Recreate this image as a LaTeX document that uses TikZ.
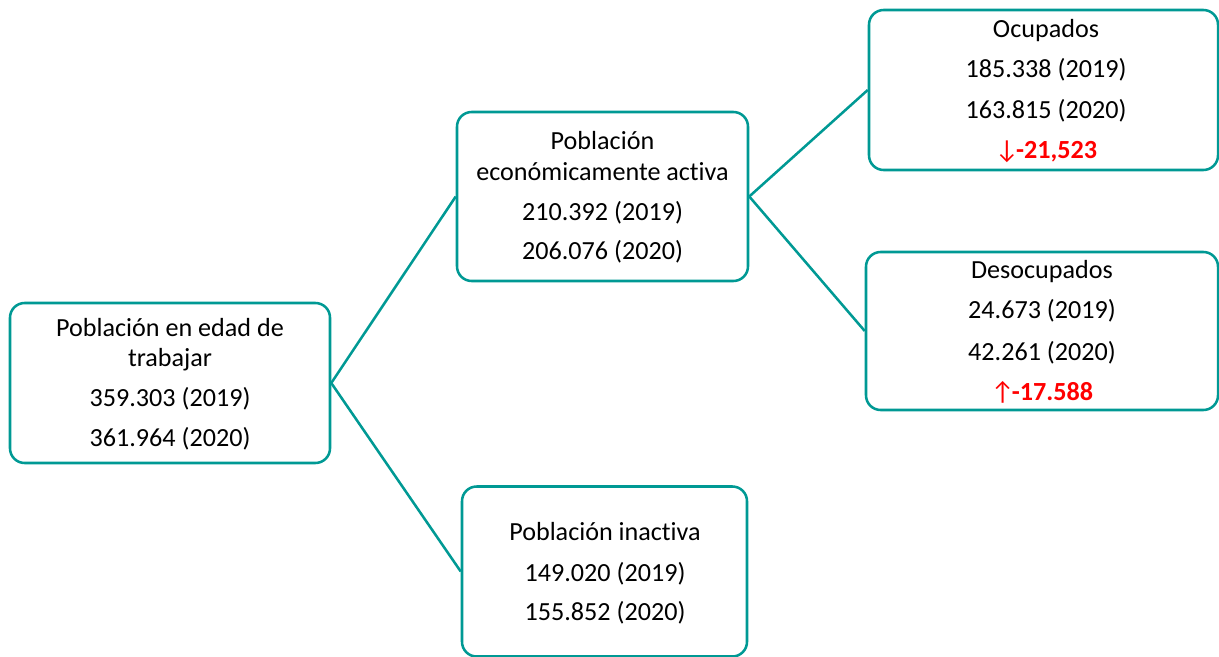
\documentclass[tikz,border=0pt]{standalone}
\usepackage{fontspec}
\setmainfont[Ligatures={NoCommon}]{Carlito}
\definecolor{tealc}{RGB}{0,153,148}
\definecolor{redc}{RGB}{255,0,0}
\tikzset{
  box/.style={draw=tealc, line width=1.9pt, rounded corners=11pt, inner sep=0pt, fill=white},
  conn/.style={draw=tealc, line width=1.9pt},
  txt/.style={anchor=base, inner sep=0pt, font=\fontsize{19.6}{22}\selectfont},
  red/.style={txt, text=redc, font=\fontsize{19.6}{22}\selectfont\bfseries}
}
\begin{document}
\begin{tikzpicture}[x=0.75pt, y=-0.75pt]
\useasboundingbox (0,0) rectangle (1219,656);
% boxes
\node[box, minimum width=240pt, minimum height=120pt] (b1) at (170,383) {};
\node[box, minimum width=218.25pt, minimum height=126.75pt] (b2) at (602.5,196.5) {};
\node[box, minimum width=213.75pt, minimum height=127.5pt] (b3) at (604.5,571.5) {};
\node[box, minimum width=261.75pt, minimum height=120pt] (b4) at (1043.5,90) {};
\node[box, minimum width=264pt, minimum height=118.5pt] (b5) at (1042,331) {};
% connectors
\draw[conn] (b1.east) -- (b2.west);
\draw[conn] (b1.east) -- (b3.west);
\draw[conn] (b2.east) -- (b4.west);
\draw[conn] (b2.east) -- (b5.west);
% texts box 1
\node[txt] (t1a) at (170,336) {Población en edad de};
\node[txt] (t1b) at (170,366) {trabajar};
\node[txt] (t1c) at (170,406) {359.303 (2019)};
\node[txt] (t1d) at (170,446) {361.964 (2020)};
% box 2
\node[txt] (t2a) at (602.5,150) {Población};
\node[txt] (t2b) at (602.5,180) {económicamente activa};
\node[txt] (t2c) at (602.5,220) {210.392 (2019)};
\node[txt] (t2d) at (602.5,259) {206.076 (2020)};
% box 3
\node[txt] (t3a) at (605,540) {Población inactiva};
\node[txt] (t3b) at (605,581) {149.020 (2019)};
\node[txt] (t3c) at (605,620) {155.852 (2020)};
% box 4
\node[txt] (t4a) at (1046,38) {Ocupados};
\node[txt] (t4b) at (1046,78) {185.338 (2019)};
\node[txt] (t4c) at (1046,118) {163.815 (2020)};
\node[red] (t4d) at (1046,158) {{\mdseries↓}\kern-2pt-21,523};
% box 5
\node[txt] (t5a) at (1042,278) {Desocupados};
\node[txt] (t5b) at (1042,318) {24.673 (2019)};
\node[txt] (t5c) at (1042,360) {42.261 (2020)};
\node[red] (t5d) at (1042,400) {{\mdseries↑}\kern-2pt-17.588};
\end{tikzpicture}
\end{document}
